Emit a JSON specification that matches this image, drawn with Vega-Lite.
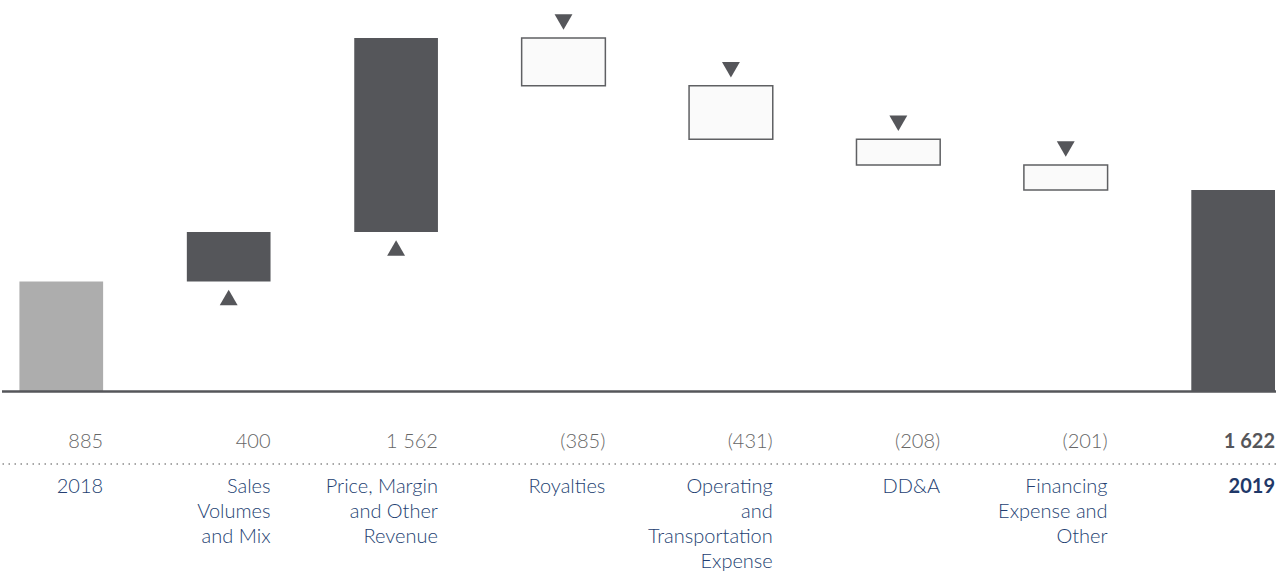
{
  "$schema": "https://vega.github.io/schema/vega-lite/v6.json",
  "width": 1278,
  "height": 571,
  "padding": 0,
  "autosize": {"type": "fit", "contains": "padding"},
  "config": {"view": {"stroke": null}, "font": "Lato"},
  "data": {
    "values": [
      {"key": "2018", "label": ["2018"], "shown": "885", "start": 0, "end": 885, "kind": "base"},
      {"key": "Sales", "label": ["Sales", "Volumes", "and Mix"], "shown": "400", "start": 885, "end": 1285, "kind": "up"},
      {"key": "Price", "label": ["Price, Margin", "and Other", "Revenue"], "shown": "1 562", "start": 1285, "end": 2847, "kind": "up"},
      {"key": "Royalties", "label": ["Royalties"], "shown": "(385)", "start": 2847, "end": 2462, "kind": "down"},
      {"key": "Operating", "label": ["Operating", "and", "Transportation", "Expense"], "shown": "(431)", "start": 2462, "end": 2031, "kind": "down"},
      {"key": "DDA", "label": ["DD&A"], "shown": "(208)", "start": 2031, "end": 1823, "kind": "down"},
      {"key": "Financing", "label": ["Financing", "Expense and", "Other"], "shown": "(201)", "start": 1823, "end": 1622, "kind": "down"},
      {"key": "2019", "label": ["2019"], "shown": "1 622", "start": 0, "end": 1622, "kind": "total"}
    ]
  },
  "layer": [
    {
      "transform": [{"filter": "datum.kind !== 'down'"}],
      "mark": {"type": "bar"},
      "encoding": {
        "x": {
          "field": "key",
          "type": "nominal",
          "axis": null,
          "scale": {
            "domain": ["2018", "Sales", "Price", "Royalties", "Operating", "DDA", "Financing", "2019"],
            "paddingInner": 0.5,
            "paddingOuter": 0.055,
            "align": 0.946
          }
        },
        "y": {"field": "start", "type": "quantitative", "axis": null, "scale": {"domain": [-1405, 3152], "nice": false, "zero": false}},
        "y2": {"field": "end"},
        "color": {
          "field": "kind",
          "type": "nominal",
          "legend": null,
          "scale": {"domain": ["base", "up", "total"], "range": ["#adadad", "#55565a", "#55565a"]}
        }
      }
    },
    {
      "transform": [{"filter": "datum.kind === 'down'"}],
      "mark": {"type": "bar", "fill": "#fafafa", "stroke": "#5f6063", "strokeWidth": 1.5},
      "encoding": {
        "x": {"field": "key", "type": "nominal", "axis": null},
        "y": {"field": "start", "type": "quantitative"},
        "y2": {"field": "end"}
      }
    },
    {
      "transform": [{"filter": "datum.kind === 'base'"}],
      "mark": {"type": "rule", "stroke": "#55565a", "strokeWidth": 2.5},
      "encoding": {"y": {"field": "start", "type": "quantitative"}}
    },
    {
      "transform": [{"filter": "datum.kind === 'base'"}],
      "mark": {"type": "rule", "stroke": "#8a8a8a", "strokeWidth": 1.5, "strokeDash": [1.5, 4.5]},
      "encoding": {"y": {"datum": -583}}
    },
    {
      "transform": [{"filter": "datum.kind === 'up'"}],
      "mark": {"type": "point", "shape": "triangle-up", "filled": true, "size": 320, "color": "#55565a", "opacity": 1, "yOffset": 16},
      "encoding": {
        "x": {"field": "key", "type": "nominal", "axis": null},
        "y": {"field": "start", "type": "quantitative"}
      }
    },
    {
      "transform": [{"filter": "datum.kind === 'down'"}],
      "mark": {"type": "point", "shape": "triangle-down", "filled": true, "size": 320, "color": "#55565a", "opacity": 1, "yOffset": -16},
      "encoding": {
        "x": {"field": "key", "type": "nominal", "axis": null},
        "y": {"field": "start", "type": "quantitative"}
      }
    },
    {
      "transform": [{"filter": "datum.kind !== 'total'"}],
      "mark": {"type": "text", "align": "right", "baseline": "alphabetic", "fontSize": 20, "fontWeight": 300, "color": "#666666"},
      "encoding": {
        "x": {"field": "key", "type": "nominal", "bandPosition": 1, "axis": null},
        "y": {"datum": -455},
        "text": {"field": "shown"}
      }
    },
    {
      "transform": [{"filter": "datum.kind === 'total'"}],
      "mark": {"type": "text", "align": "right", "baseline": "alphabetic", "fontSize": 20, "fontWeight": "bold", "color": "#55565a"},
      "encoding": {
        "x": {"field": "key", "type": "nominal", "bandPosition": 1, "axis": null},
        "y": {"datum": -455},
        "text": {"field": "shown"}
      }
    },
    {
      "transform": [{"filter": "datum.kind !== 'total'"}],
      "mark": {"type": "text", "align": "right", "baseline": "alphabetic", "fontSize": 20, "fontWeight": 300, "lineHeight": 25, "color": "#243f72"},
      "encoding": {
        "x": {"field": "key", "type": "nominal", "bandPosition": 1, "axis": null},
        "y": {"datum": -814},
        "text": {"field": "label"}
      }
    },
    {
      "transform": [{"filter": "datum.kind === 'total'"}],
      "mark": {"type": "text", "align": "right", "baseline": "alphabetic", "fontSize": 20, "fontWeight": "bold", "lineHeight": 25, "color": "#1f3868"},
      "encoding": {
        "x": {"field": "key", "type": "nominal", "bandPosition": 1, "axis": null},
        "y": {"datum": -814},
        "text": {"field": "label"}
      }
    }
  ]
}
